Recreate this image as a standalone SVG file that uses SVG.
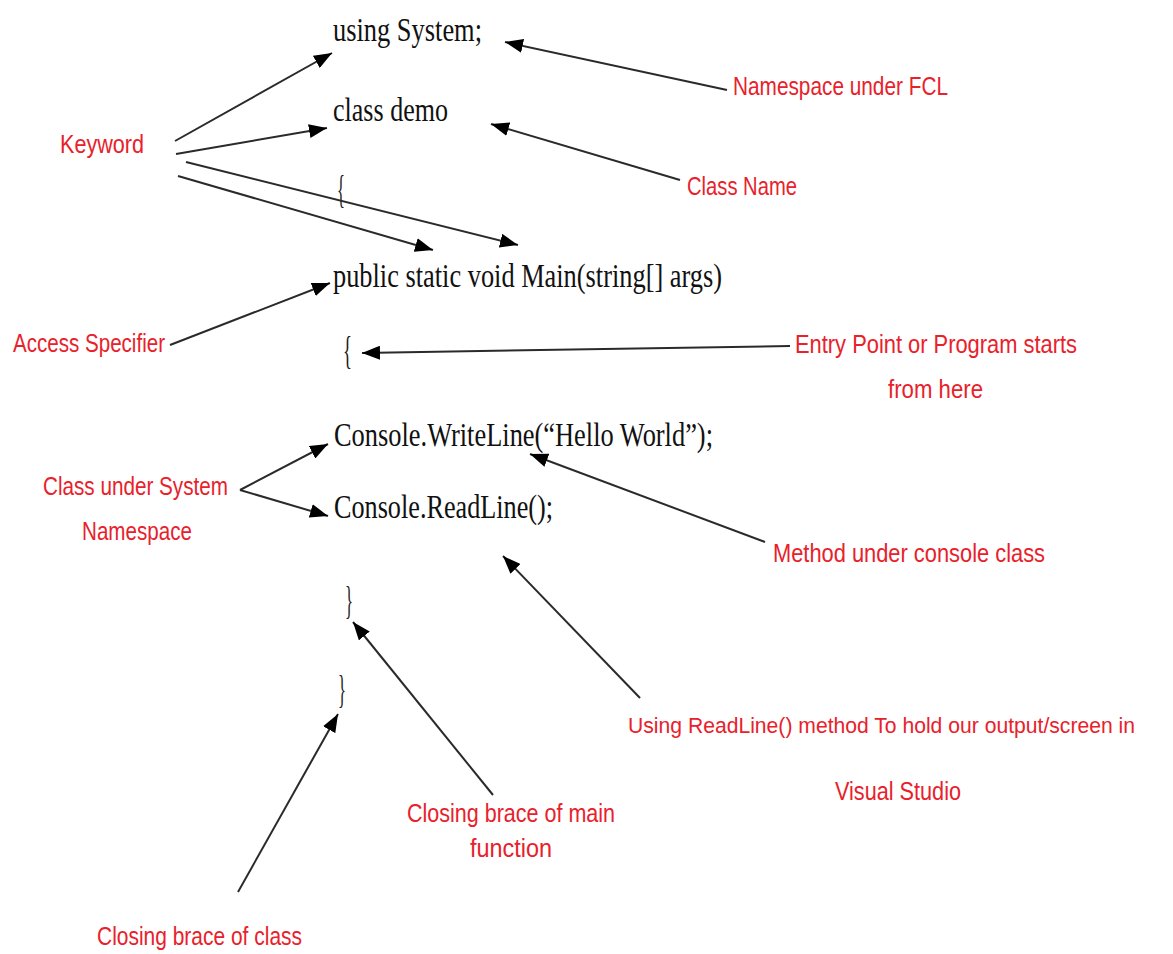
<svg xmlns="http://www.w3.org/2000/svg" width="1173" height="954" viewBox="0 0 1173 954">
<style>
.code{font-family:"Liberation Serif","Times New Roman",serif;font-size:34px;fill:#111}
.brace{font-family:"Liberation Serif","Times New Roman",serif;font-size:40px;fill:#1a1a1a}
.lbl{font-family:"Liberation Sans Narrow","Liberation Sans",Arial,sans-serif;font-size:25px;fill:#e8212b}
.conn line{stroke:#2a2a2a;stroke-width:2;marker-end:url(#ah)}
</style>
<defs>
<marker id="ah" markerUnits="userSpaceOnUse" markerWidth="20" markerHeight="14" refX="18" refY="7" orient="auto">
<path d="M0,0 L18,7 L0,14 z" fill="#000"/>
</marker>
</defs>
<rect width="1173" height="954" fill="#fff"/>
<g id="code">
<g id="n-using"><text class="code" x="333" y="41" textLength="149" lengthAdjust="spacingAndGlyphs">using System;</text></g>
<g id="n-class"><text class="code" x="333" y="121" textLength="115" lengthAdjust="spacingAndGlyphs">class demo</text></g>
<g id="n-brace1"><text class="brace" x="337" y="203" textLength="8" lengthAdjust="spacingAndGlyphs">{</text></g>
<g id="n-main"><text class="code" x="333" y="287" textLength="389" lengthAdjust="spacingAndGlyphs">public static void Main(string[] args)</text></g>
<g id="n-brace2"><text class="brace" x="343" y="364" textLength="9" lengthAdjust="spacingAndGlyphs">{</text></g>
<g id="n-write"><text class="code" x="334" y="446" textLength="379" lengthAdjust="spacingAndGlyphs">Console.WriteLine(“Hello World”);</text></g>
<g id="n-read"><text class="code" x="334" y="518" textLength="219" lengthAdjust="spacingAndGlyphs">Console.ReadLine();</text></g>
<g id="n-brace3"><text class="brace" x="345" y="614" textLength="8" lengthAdjust="spacingAndGlyphs">}</text></g>
<g id="n-brace4"><text class="brace" x="338" y="703" textLength="8" lengthAdjust="spacingAndGlyphs">}</text></g>
</g>
<g id="labels">
<g id="l-keyword"><text class="lbl" x="60" y="153" textLength="84" lengthAdjust="spacingAndGlyphs">Keyword</text></g>
<g id="l-namespace"><text class="lbl" x="733" y="95" textLength="215" lengthAdjust="spacingAndGlyphs">Namespace under FCL</text></g>
<g id="l-classname"><text class="lbl" x="687" y="195" textLength="110" lengthAdjust="spacingAndGlyphs">Class Name</text></g>
<g id="l-access"><text class="lbl" x="13" y="352" textLength="152" lengthAdjust="spacingAndGlyphs">Access Specifier</text></g>
<g id="l-entry"><text class="lbl" x="795" y="353" textLength="282" lengthAdjust="spacingAndGlyphs">Entry Point or Program starts</text><text class="lbl" x="888" y="398" textLength="95" lengthAdjust="spacingAndGlyphs">from here</text></g>
<g id="l-classsys"><text class="lbl" x="43" y="495" textLength="185" lengthAdjust="spacingAndGlyphs">Class under System</text><text class="lbl" x="82" y="540" textLength="110" lengthAdjust="spacingAndGlyphs">Namespace</text></g>
<g id="l-method"><text class="lbl" x="773" y="562" textLength="272" lengthAdjust="spacingAndGlyphs">Method under console class</text></g>
<g id="l-readline"><text class="lbl" x="628" y="733" style="font-size:22px" textLength="507" lengthAdjust="spacingAndGlyphs">Using ReadLine() method To hold our output/screen in</text><text class="lbl" x="835" y="800" textLength="126" lengthAdjust="spacingAndGlyphs">Visual Studio</text></g>
<g id="l-closemain"><text class="lbl" x="407" y="822" textLength="208" lengthAdjust="spacingAndGlyphs">Closing brace of main</text><text class="lbl" x="470" y="857" textLength="82" lengthAdjust="spacingAndGlyphs">function</text></g>
<g id="l-closeclass"><text class="lbl" x="97" y="945" textLength="205" lengthAdjust="spacingAndGlyphs">Closing brace of class</text></g>
</g>
<g id="connectors" class="conn">
<line x1="175" y1="141" x2="332" y2="53"/>
<line x1="176" y1="154" x2="327" y2="128"/>
<line x1="186" y1="162" x2="518" y2="245"/>
<line x1="178" y1="176" x2="433" y2="250"/>
<line x1="727" y1="90" x2="505" y2="42"/>
<line x1="680" y1="180" x2="491" y2="124"/>
<line x1="170" y1="345" x2="330" y2="283"/>
<line x1="790" y1="346" x2="362" y2="353"/>
<line x1="240" y1="490" x2="328" y2="444"/>
<line x1="240" y1="490" x2="328" y2="516"/>
<line x1="765" y1="542" x2="530" y2="454"/>
<line x1="640" y1="698" x2="503" y2="556"/>
<line x1="493" y1="795" x2="353" y2="622"/>
<line x1="238" y1="892" x2="338" y2="714"/>
</g>
</svg>
